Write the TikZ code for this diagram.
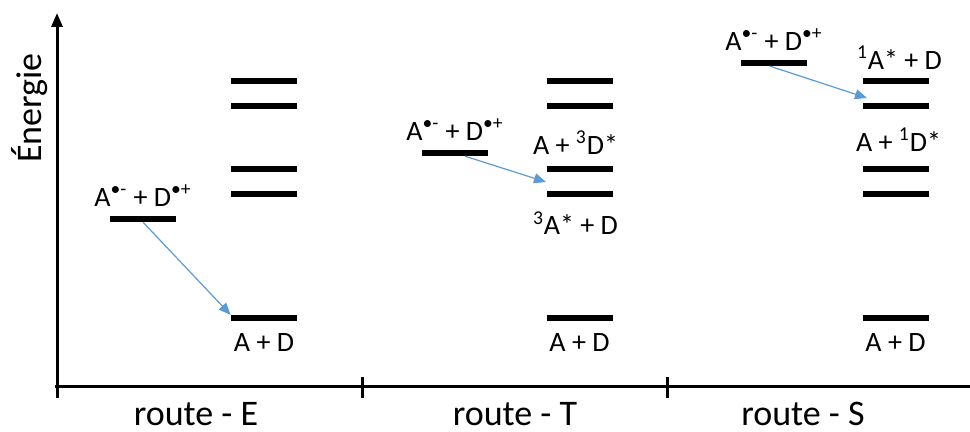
\documentclass[tikz,border=0pt]{standalone}
\usepackage{fontspec}
\setmainfont{Carlito}
\usetikzlibrary{positioning,arrows.meta}
\definecolor{arrowblue}{RGB}{91,155,213}

\begin{document}
\begin{tikzpicture}[x=0.5pt,y=-0.5pt,
    lvl/.style={fill=black,inner sep=0pt,minimum width=33pt,minimum height=2.8pt},
    lbl/.style={font=\fontsize{14}{16}\selectfont,inner sep=0pt},
    big/.style={font=\fontsize{18}{20}\selectfont,inner sep=0pt},
    axis/.style={line width=1.5pt},
    transfer/.style={draw=arrowblue,line width=0.6pt,-{Triangle[length=6pt,width=5pt]}}]
    \useasboundingbox (0,0) rectangle (970,432);

    %% axes
    \coordinate (foot) at (57,398);
    \coordinate (top) at (57,13);
    \coordinate (left) at (55,387);
    \coordinate (right) at (970,387);
    \draw[axis,-{Triangle[length=7pt,width=5.5pt]}] (foot) -- (top);
    \draw[axis] (left) -- (right);
    \foreach \x in {362,667}
      \draw[axis] (\x,377) -- (\x,398);
    \node[big,rotate=90] (energie) at (30,108) {Énergie};
    \node[big] (routeE) at (196,414) {route - E};
    \node[big] (routeT) at (515,414) {route - T};
    \node[big] (routeS) at (803,414) {route - S};

    %% ladders
    \foreach \r/\x in {e/264,t/579.5,s/895.5}
      \foreach \i/\y in {1/81,2/106,3/169,4/194,5/318}
        \node[lvl] (\r\i) at (\x,\y) {};
    \foreach \r in {e,t,s}
      \node[lbl,below=6pt of \r5] (\r5l) {A + D};
    \node[lbl,above=5.6pt of t3,xshift=-2pt] (t3l) {A + \textsuperscript{3}D*};
    \node[lbl,below=7pt of t4,xshift=-2pt] (t4l) {\textsuperscript{3}A* + D};
    \node[lbl,above=4.1pt of s1,xshift=2pt] (s1l) {\textsuperscript{1}A* + D};
    \node[lbl,above=7pt of s3,xshift=1.5pt] (s3l) {A + \textsuperscript{1}D*};

    %% radical pairs
    \node[lvl] (er) at (143,219) {};
    \node[lvl] (tr) at (455,153) {};
    \node[lvl] (sr) at (774,63) {};
    \foreach \r in {er,tr,sr}
      \node[lbl,above=4.5pt of \r] (\r l) {A\textsuperscript{•-} + D\textsuperscript{•+}};

    %% transfers
    \coordinate (tgap) at (546,182);
    \coordinate (sgap) at (867,98);
    \draw[transfer] (er.south) -- (e5.north west);
    \draw[transfer] ([xshift=5pt]tr.south) -- (tgap);
    \draw[transfer] ([xshift=-2pt]sr.south) -- (sgap);
\end{tikzpicture}
\end{document}
